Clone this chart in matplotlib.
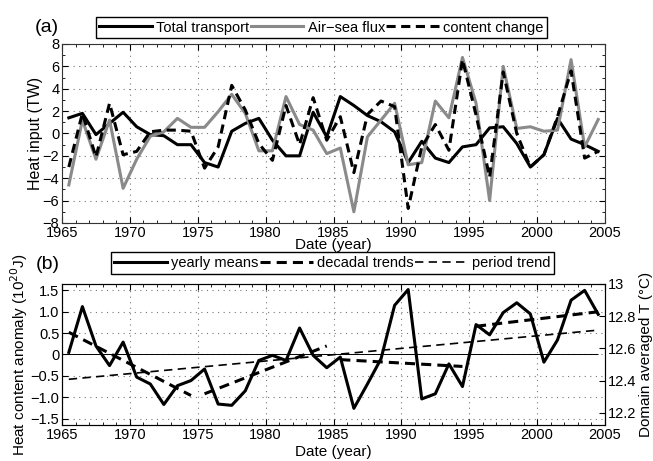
import numpy as np
import matplotlib.pyplot as plt
from matplotlib.ticker import MultipleLocator

plt.rcParams['font.family'] = ['Liberation Sans', 'DejaVu Sans']
plt.rcParams['font.size'] = 10.5

# yearly values, plotted at mid-year
years = np.arange(1965, 2005) + 0.5

total_transport = [1.4, 1.8, -0.1, 0.9, 1.9, 0.6, -0.1, -0.2, -1.0, -1.0,
                   -2.6, -3.0, 0.2, 0.9, 1.35, -0.6, -2.0, -2.0, 1.9, -0.3,
                   3.3, 2.5, 1.6, 1.05, 0.15, -2.6, -0.7, -2.2, -2.6, -1.2,
                   -1.0, 0.5, 0.6, -0.9, -3.0, -1.9, 1.35, -0.5, -1.0, -1.6]
air_sea_flux = [-4.6, 1.2, -2.3, 1.2, -4.9, -2.3, -0.25, 0.15, 1.35, 0.55,
                0.55, 1.95, 3.5, 1.8, -1.55, -1.55, 3.3, 0.8, 0.3, -1.8,
                -1.3, -7.0, -0.3, 1.2, 2.7, -2.8, -2.6, 2.9, 1.4, 6.8,
                2.7, -6.0, 6.0, 0.45, 0.6, 0.2, 0.3, 6.6, -1.2, 1.25]
content_change = [-3.0, 1.8, -2.1, 2.7, -1.9, -1.6, 0.15, 0.3, 0.3, 0.2,
                  -3.1, -1.2, 4.3, 2.1, -0.9, -2.4, 2.5, -1.0, 3.2, -0.6,
                  1.5, -3.5, 1.7, 2.9, 2.4, -6.7, -1.2, 0.8, -1.5, 6.6,
                  1.65, -3.9, 5.5, 0.0, -3.0, -1.9, 1.5, 5.6, -2.2, -1.6]

yearly_means = [0.05, 1.12, 0.2, -0.26, 0.29, -0.53, -0.69, -1.17, -0.73, -0.61,
                -0.34, -1.16, -1.19, -0.85, -0.14, -0.02, -0.14, 0.62, -0.02, -0.31,
                -0.06, -1.26, -0.69, -0.1, 1.15, 1.52, -1.04, -0.92, -0.22, -0.75,
                0.7, 0.46, 0.98, 1.21, 0.95, -0.18, 0.34, 1.27, 1.5, 0.94]

# decadal trend segments (start/end year and value)
dec_x0 = [1965.5, 1975.5, 1985.5, 1995.5]
dec_x1 = [1974.5, 1984.5, 1994.5, 2004.5]
dec_y0 = [0.52, -0.92, -0.12, 0.66]
dec_y1 = [-0.96, 0.2, -0.28, 1.0]

period_x = [1965.5, 2004.5]
period_y = [-0.58, 0.57]

fig = plt.figure(figsize=(6.53, 4.61), dpi=100)
ax1 = fig.add_axes([0.095, 0.5163, 0.8315, 0.3883])
ax2 = fig.add_axes([0.095, 0.0781, 0.8315, 0.3059])

grey = '#8a8a8a'
leg_kw = dict(loc='center', ncol=3, frameon=True, fancybox=False,
              edgecolor='black', framealpha=1, handlelength=3.6,
              handletextpad=0.3, columnspacing=0.1, borderpad=0.25,
              fontsize=10.5)

# ---- panel (a)
ax1.plot(years, total_transport, color='black', lw=2.2, label='Total transport')
ax1.plot(years, air_sea_flux, color=grey, lw=2.2, label='Air\u2212sea flux')
ax1.plot(years, content_change, color='black', lw=2.2, dashes=(3, 1.8),
         label='content change')
ax1.set_xlim(1965, 2005)
ax1.set_ylim(-8, 8)
ax1.set_yticks(np.arange(-8, 9, 2))
ax1.set_yticklabels([str(v).replace('-', '\u2212') for v in range(-8, 9, 2)])
ax1.yaxis.set_minor_locator(MultipleLocator(1))
ax1.set_ylabel('Heat input (TW)', labelpad=0, fontsize=11.5)
ax1.set_xlabel('Date (year)', labelpad=-1, fontsize=11)
ax1.legend(bbox_to_anchor=(0.4923, 0.9403), bbox_transform=fig.transFigure,
           **leg_kw)
fig.text(0.053, 0.94, '(a)', fontsize=14, va='center')

# ---- panel (b)
ax2.hlines(0, 1965, 2004.5, color='black', lw=0.7)
ax2.plot(years, yearly_means, color='black', lw=2.2, label='yearly means')
for i in range(len(dec_x0)):
    ax2.plot([dec_x0[i], dec_x1[i]], [dec_y0[i], dec_y1[i]], color='black',
             lw=2.2, dashes=(3.3, 2), label='decadal trends' if i == 0 else None)
ax2.plot(period_x, period_y, color='black', lw=1.2, dashes=(5, 3.2),
         label='period trend')
ax2.set_xlim(1965, 2005)
ax2.set_ylim(-1.65, 1.65)
bt = [-1.5, -1.0, -0.5, 0, 0.5, 1.0, 1.5]
ax2.set_yticks(bt)
ax2.set_yticklabels(['\u22121.5', '\u22121.0', '\u22120.5', '0', '0.5', '1.0', '1.5'])
ax2.set_ylabel('Heat content anomaly (10$^{20}$J)', labelpad=0, fontsize=11)
ax2.set_xlabel('Date (year)', labelpad=2, fontsize=11)
ax2.legend(bbox_to_anchor=(0.509, 0.4295), bbox_transform=fig.transFigure,
           **leg_kw)
fig.text(0.055, 0.427, '(b)', fontsize=14, va='center')

axr = ax2.twinx()
axr.set_ylim(12.125, 13.0)
axr.set_yticks([12.2, 12.4, 12.6, 12.8, 13.0])
axr.set_yticklabels(['12.2', '12.4', '12.6', '12.8', '13'])
axr.set_ylabel('Domain averaged T (\u00b0C)', labelpad=2, fontsize=11)
axr.tick_params(axis='y', direction='in', length=4, pad=2)

for ax in (ax1, ax2):
    ax.set_xticks(np.arange(1965, 2006, 5))
    ax.xaxis.set_minor_locator(MultipleLocator(1))
    ax.grid(True, which='major', linestyle=(0, (1, 4)), color='#777777', lw=0.8)
    ax.tick_params(which='both', direction='in', top=True,
                   right=(ax is ax1), pad=2)
    ax.tick_params(which='major', length=4)
    ax.tick_params(which='minor', length=2.5)
    for s in ax.spines.values():
        s.set_color('#333333')

fig.savefig('out.png', dpi=100)
